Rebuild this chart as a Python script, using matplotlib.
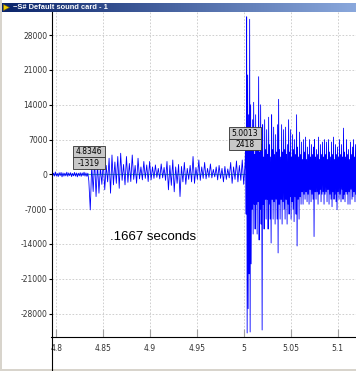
import numpy as np
import matplotlib
matplotlib.use('Agg')
import matplotlib.pyplot as plt
from matplotlib.patches import Rectangle
from matplotlib.lines import Line2D

# --- data -------------------------------------------------------------------
window_title = "~S# Default sound card - 1"
note_text = ".1667 seconds"

x_ticks = [4.8, 4.85, 4.9, 4.95, 5.0, 5.05, 5.1]
x_labels = ["4.8", "4.85", "4.9", "4.95", "5", "5.05", "5.1"]
y_ticks = [-28000, -21000, -14000, -7000, 0, 7000, 14000, 21000, 28000]

# quiet lead-in (4.795 .. 4.8346)
quiet_vals = [300, -400, 250, -350, 500, -300, 200, -450, 350, -250,
              400, -500, 300, -350, 250, -300, 450, -400, 300, -250,
              350, -450, 200, -300, 400, -350, 300, -500, 250, -300,
              350, -400, 300, -250, 450, -350, 300, -400, 250, -1319]

# first burst (4.8346 .. 5.0013)
burst_vals = [-7140, 1900, -3450, 2900, -4460,
              2250, -3780, 1500, -2000, 2600, -3100, 1800,
              -1500, 3250, -3780, 3900, -2100, 2500, -1800, 3600,
              -2800, 4260, -1200, 2000, -2100, 3600, -1600, 2200, -1440, 3900,
              -1000, 1800, -1780, 3250,
              -900, 1500, -1100, 2600, -800, 1900, -1440, 2600,
              -1100, 1500, -800, 1900, -600, 1200, -900, 2100, -700, 1400,
              -1200, 2600, -3100,
              1800, -2200, 2900, -3500, 1500, -1800, 2000, -4460, 1600, -1500,
              2400, -2000, 1200, -1000,
              1800, -1500, 3600, -1800, 1400, -1000, 2900, -1200, 1500, -800,
              2400, -900, 1200, -600,
              2100, -700, 1000, -500, 1500, -1100, 1800, -800, 1200, -1500,
              1600, -1000, 1100, -700, 2400, -1800, 1500, -1000, 2700, -1500,
              1800, -1200, 2900, -2000, 2418]

# main impact (5.0013 .. 5.1195), per pixel column max / min
impact_hi = [6000, 31700, 20000, 12000, 31200, 14000, 5000, 11000, 14500, 4000,
             12000, 5000, 9000, 19650, 4500, 14000, 6000, 10000, 3500, 11000,
             5000, 9000, 4000, 11500, 6000, 3500, 12000, 5000, 9500, 4000,
             8000, 4500, 10000, 15100, 5000, 3500, 10000, 4500, 9000, 5000,
             9500, 4000, 6000, 11000, 4500, 9000, 3500, 8000, 5000, 7000,
             4000, 12000, 5500, 3500, 8500, 4000, 6500, 3000, 7000, 4500,
             7500, 3000, 5500, 4000, 7000, 3500, 6000, 4000, 5500, 7000,
             3500, 5000, 4000, 7500, 3000, 6000, 4000, 6500, 3500, 7000,
             4000, 6500, 3000, 7000, 4500, 3500, 6500, 4000, 7500, 3000,
             6000, 4000, 5500, 3500, 7000, 4000, 6000, 3500, 9300, 4500,
             3500, 7000, 4000, 5000, 3000, 6500, 4000, 5500, 7000, 3500, 6000]
impact_lo = [-8000, -31900, -27000, -20000, -31700, -18000, -7000, -12000, -6000, -11000,
             -6000, -12000, -5500, -13200, -7000, -10000, -31300, -6000, -11000, -5000,
             -9000, -5000, -11000, -6000, -9000, -13800, -5000, -9000, -5500, -10000,
             -5000, -9000, -15800, -6000, -9000, -5000, -10000, -5500, -7000, -9000,
             -5000, -10000, -6000, -8000, -4500, -9000, -5500, -7000, -9500, -4500,
             -8000, -14400, -5000, -9000, -4500, -6000, -3500, -6000, -4000, -5000,
             -3500, -5500, -4000, -6000, -3000, -5500, -4000, -5000, -12500, -3500,
             -5000, -3500, -6000, -4000, -3000, -5500, -4000, -3500, -6000, -4000,
             -3500, -5500, -3000, -6000, -4000, -5000, -6500, -3500, -5000, -4000,
             -5500, -7100, -3500, -5000, -4000, -5500, -3000, -5000, -4000, -5500,
             -3500, -4000, -6000, -3500, -6000, -3000, -5000, -4500, -3500, -5500, -4000]

markers_t = [4.8346, 5.0013]
markers_v = [-1319, 2418]
markers_t_txt = ["4.8346", "5.0013"]
markers_v_txt = ["-1319", "2418"]

t_left, t_right = 4.7948, 5.1195

# --- build the sample time axis ---------------------------------------------
t_quiet = np.linspace(t_left, markers_t[0], len(quiet_vals))
t_burst = np.linspace(markers_t[0], markers_t[1], len(burst_vals) + 1)[1:]
impact_vals = np.column_stack([impact_hi, impact_lo]).ravel()
t_impact = np.linspace(markers_t[1], t_right, len(impact_vals) + 1)[1:]

t = np.concatenate([t_quiet, t_burst, t_impact])
v = np.concatenate([quiet_vals, burst_vals, impact_vals])

# --- figure ------------------------------------------------------------------
W, H = 356, 371
fig = plt.figure(figsize=(W / 100, H / 100), dpi=100)
fig.patch.set_facecolor('white')

ax_left, ax_top, ax_bot = 51.5, 11.5, 337.3
ax = fig.add_axes([ax_left / W, (H - ax_bot) / H, (W - ax_left) / W, (ax_bot - ax_top) / H])
ax.set_xlim(t_left, t_right)
ax.set_ylim(-32768, 32767)

ax.axhline(0, color='#40c090', lw=0.8, zorder=1)
ax.plot(t, v, color='#0000ff', lw=0.6, zorder=2)

ax.set_xticks(x_ticks)
ax.set_xticklabels(x_labels)
ax.set_yticks(y_ticks)
ax.set_yticklabels([str(y) for y in y_ticks])
ax.grid(True, color='#c8c8c8', linestyle=(0, (2, 2)), linewidth=0.6)
ax.set_axisbelow(True)
for side in ['top', 'right']:
    ax.spines[side].set_visible(False)
for side in ['left', 'bottom']:
    ax.spines[side].set_linewidth(0.8)
ax.tick_params(axis='x', direction='in', length=6, color='#a0a0a0',
               labelsize=5.5, labelcolor='#333333', pad=4.5)
ax.tick_params(axis='y', direction='out', length=2, color='black',
               labelsize=5.5, labelcolor='#333333', pad=1)

ax.text(0.192, 0.299, note_text, transform=ax.transAxes, fontsize=9.5,
        family='Liberation Sans', va='baseline', ha='left')

# y axis line runs on to the window bottom
fig.add_artist(Line2D([ax_left / W] * 2, [0, (H - ax_bot) / H], color='black', lw=0.8))
# window borders
fig.add_artist(Rectangle((0, 0), 1, 2.5 / H, transform=fig.transFigure,
                         facecolor='#d8d4cc', edgecolor='none'))
fig.add_artist(Rectangle((0, 0), 2 / W, 1, transform=fig.transFigure,
                         facecolor='#d8d4cc', edgecolor='none'))

# value tags above the two cursor points
box_w, box_h, gap = 32, 11.5, 12
for mt, mv, t_txt, v_txt in zip(markers_t, markers_v, markers_t_txt, markers_v_txt):
    px, py = ax.transData.transform((mt, mv))
    for k, txt in enumerate([v_txt, t_txt]):
        y0 = py + gap + k * box_h
        fig.add_artist(Rectangle(((px - box_w / 2) / W, y0 / H), box_w / W, box_h / H,
                                 transform=fig.transFigure, facecolor='#c8c8c8',
                                 edgecolor='#303030', lw=0.6, zorder=5))
        fig.text(px / W, (y0 + box_h / 2) / H, txt, ha='center', va='center',
                 fontsize=5.5, color='black', zorder=6)

# title bar
tb = fig.add_axes([0, (H - 12) / H, 1, 9.3 / H])
grad = np.linspace(0, 1, 256).reshape(1, -1)
tb.imshow(grad, aspect='auto', extent=[0, 1, 0, 1],
          cmap=matplotlib.colors.LinearSegmentedColormap.from_list('tb', ['#0a246a', '#8aa8dc']))
tb.set_xlim(0, 1)
tb.set_ylim(0, 1)
tb.axis('off')
tb.plot([5.5 / W], [0.5], marker='>', color='#f0d000', markeredgecolor='#806000',
        markersize=4, markeredgewidth=0.4)
tb.text(13 / W, 0.5, window_title, color='white', fontweight='bold',
        fontsize=5.4, family='Liberation Sans', va='center', ha='left')

fig.savefig('out.png', dpi=100)
